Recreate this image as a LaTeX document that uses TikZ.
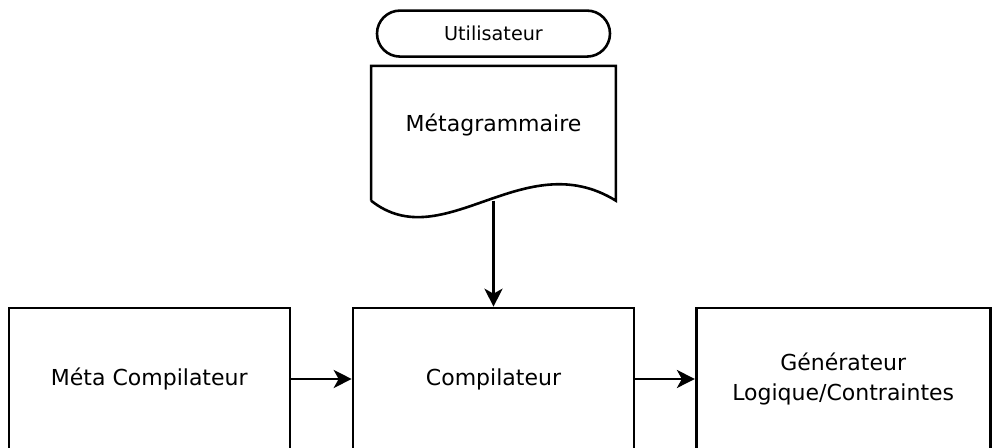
\documentclass[tikz,border=0pt]{standalone}
\usepackage{fontspec}
\setmainfont{DejaVu Sans}
\usepackage{tikz}
\usetikzlibrary{arrows.meta,positioning,shapes.misc}

\begin{document}
\begin{tikzpicture}[
  node distance=30pt and 30pt,
  box/.style={draw=black, fill=white, line width=1.3pt, align=center,
              font=\fontsize{11pt}{15pt}\selectfont, minimum height=71pt, minimum width=140.5pt, inner sep=2pt},
  doc/.style={align=center, font=\fontsize{11pt}{13.5pt}\selectfont,
              minimum height=58.5pt, minimum width=122pt, inner sep=2pt},
  term/.style={draw=black, rounded rectangle, line width=1.3pt, align=center,
               font=\fontsize{9.6pt}{11pt}\selectfont, minimum height=23pt, minimum width=120.5pt, inner sep=2pt},
  arr/.style={-{Stealth[length=9pt, width=9pt, inset=2.5pt]}, line width=1.3pt}
]
\useasboundingbox (0,0) rectangle (496pt,224pt);
\node[box] (comp) at (246.75pt,34.5pt) {Compilateur};
\node[box, left=30.3pt of comp] (meta) {Méta Compilateur};
\node[box, right=29.8pt of comp, minimum width=147pt] (gen) {Générateur\\Logique/Contraintes};
\node[doc, above=61.5pt of comp] (gram) {Métagrammaire};
\node[term, above=4pt of gram] (user) {Utilisateur};
% document shape with a wavy bottom
\draw[line width=1.3pt, line join=miter]
  ([yshift=-8.5pt]gram.south west) -- (gram.north west) -- (gram.north east)
  -- ([yshift=-8.5pt]gram.south east)
  .. controls ([xshift=-46pt,yshift=20pt]gram.south east) and ([xshift=36pt,yshift=-37pt]gram.south west)
  .. ([yshift=-8.5pt]gram.south west);
\coordinate (gramend) at ([yshift=-8.5pt]gram.south);
\draw[arr] (gramend) -- (comp);
\draw[arr] (meta) -- (comp);
\draw[arr] (comp) -- (gen);
\end{tikzpicture}
\end{document}
